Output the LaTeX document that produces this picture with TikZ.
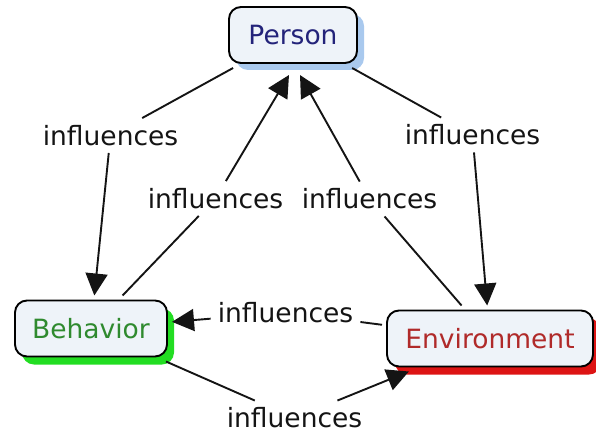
\documentclass[tikz,border=0pt]{standalone}
\usepackage{fontspec}
\setmainfont{DejaVu Sans}
\usetikzlibrary{arrows.meta,shadows,calc}

\definecolor{boxfill}{HTML}{EEF3F9}
\definecolor{linktext}{HTML}{141414}
\definecolor{persontext}{HTML}{23237A}
\definecolor{personshadow}{HTML}{A9C9EE}
\definecolor{behaviortext}{HTML}{2F8A2F}
\definecolor{behaviorshadow}{HTML}{22DD22}
\definecolor{envtext}{HTML}{B02A2A}
\definecolor{envshadow}{HTML}{DD1414}

\begin{document}
\begin{tikzpicture}[x=1pt,y=-1pt,
  concept/.style={draw=black, line width=1.9pt, rounded corners=12pt,
    fill=boxfill, minimum height=56pt, inner sep=0pt, outer sep=5pt,
    font=\fontsize{26.5}{30}\selectfont},
  link/.style={inner sep=7pt, text=linktext,
    font=\fontsize{26.5}{30}\selectfont},
  conn/.style={line width=1.9pt, draw=linktext},
  arr/.style={conn, -{Triangle[length=22pt,width=22pt]}},
]
\useasboundingbox (0,0) rectangle (596,433);

% concepts
\node[concept, minimum width=128pt, text=persontext,
  drop shadow={shadow xshift=7pt, shadow yshift=-7pt, fill=personshadow, opacity=1}]
  (person) at (293,35) {Person};
\node[concept, minimum width=152pt, text=behaviortext,
  drop shadow={shadow xshift=7pt, shadow yshift=-8pt, fill=behaviorshadow, opacity=1}]
  (behavior) at (91,328.5) {Behavior};
\node[concept, minimum width=206pt, text=envtext,
  drop shadow={shadow xshift=8pt, shadow yshift=-8pt, fill=envshadow, opacity=1}]
  (environment) at (490,338.5) {Environment};

% linking phrases
\node[link] (l1) at (110.5,135.5) {influences};
\node[link] (l2) at (215.5,198.5) {influences};
\node[link] (l3) at (369.5,199) {influences};
\node[link] (l4) at (472.5,135) {influences};
\node[link] (l5) at (285.5,312.5) {influences};
\node[link] (l6) at (294.5,418) {influences};

% arrow targets under the Person box
\coordinate (pinL) at ($(person.south)+(-4,7)$);
\coordinate (pinR) at ($(person.south)+(7,7)$);

% connectors
\draw[conn] (person) -- (l1);
\draw[arr] (l1) -- (behavior);
\draw[conn] (behavior) -- (l2);
\draw[arr] (l2) -- (pinL);
\draw[conn] (environment) -- (l3);
\draw[arr] (l3) -- (pinR);
\draw[conn] (person) -- (l4);
\draw[arr] (l4) -- (environment);
\draw[conn] (environment) -- (l5);
\draw[arr] (l5) -- (behavior);
\draw[conn] (behavior) -- (l6);
\draw[arr] (l6) -- (environment);
\end{tikzpicture}
\end{document}
